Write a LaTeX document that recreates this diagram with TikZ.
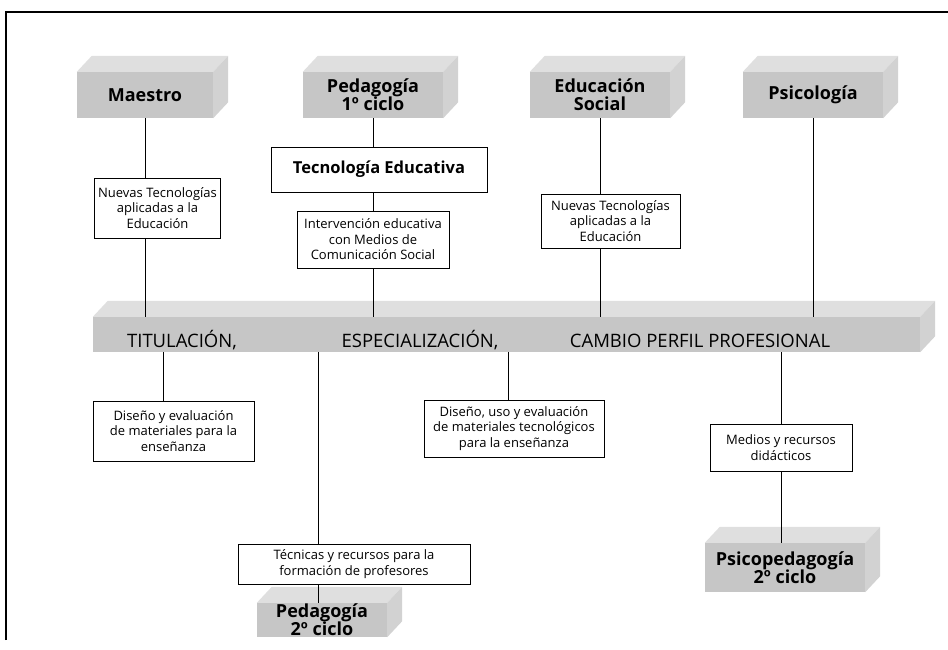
\documentclass[tikz,border=0pt]{standalone}
\usepackage{fontspec}
\setmainfont{Open Sans}
\usetikzlibrary{calc}
\begin{document}
\begin{tikzpicture}[x=1pt,y=-1pt,
    front/.style={fill=gray!45, inner sep=0pt, align=center, font=\bfseries\fontsize{18}{18}\selectfont},
    topface/.style={fill=gray!25},
    sideface/.style={fill=gray!35},
    textbox/.style={draw, line width=0.8pt, align=center, inner sep=2pt, font=\fontsize{13}{15.5}\selectfont},
    bartext/.style={anchor=base, font=\fontsize{18.5}{20}\selectfont}]
    \useasboundingbox (0,0) rectangle (948,649);
    \draw[line width=1.2pt] (6,640) -- (6,12) -- (948,12);
    % upper prisms
    \node[front, minimum width=136pt, minimum height=46pt] (maestro) at (145,95) {Maestro};
    \node[front, minimum width=140pt, minimum height=46pt] (pedA) at (373,95) {Pedagogía\\1º ciclo};
    \node[front, minimum width=140pt, minimum height=46pt] (edsoc) at (600,95) {Educación\\Social};
    \node[front, minimum width=140pt, minimum height=46pt] (psico) at (813,95) {Psicología};
    % central bar
    \node[front, minimum width=827pt, minimum height=35pt] (bar) at (506.5,334.5) {};
    % lower prisms
    \node[front, minimum width=130pt, minimum height=34pt] (pedB) at (322,620) {Pedagogía\\2º ciclo};
    \node[front, minimum width=160pt, minimum height=49pt] (psicoped) at (785,567.5) {Psicopedagogía\\2º ciclo};
    \foreach \n in {maestro,pedA,edsoc,psico,bar,pedB,psicoped}{
        \fill[topface] (\n.north west) -- ++(15,-16) -- ($(\n.north east)+(15,-16)$) -- (\n.north east) -- cycle;
        \fill[sideface] (\n.north east) -- ++(15,-16) -- ($(\n.south east)+(15,-16)$) -- (\n.south east) -- cycle;
    }
    \node[bartext] (titul) at (182,347) {TITULACIÓN,};
    \node[bartext] (espec) at (420,347) {ESPECIALIZACIÓN,};
    \node[bartext] (cambio) at (700,347) {CAMBIO PERFIL PROFESIONAL};
    % boxes above the bar
    \node[textbox, minimum width=126pt, minimum height=60pt] (ntA) at (157.5,208) {Nuevas Tecnologías\\aplicadas a la\\Educación};
    \node[textbox, minimum width=216pt, minimum height=45pt, font=\bfseries\fontsize{16.5}{18}\selectfont] (tecedu) at (379,169.5) {Tecnología Educativa};
    \node[textbox, minimum width=152pt, minimum height=57pt] (interv) at (373,239.5) {Intervención educativa\\con Medios de\\Comunicación Social};
    \node[textbox, minimum width=139pt, minimum height=54pt] (ntB) at (610.5,221) {Nuevas Tecnologías\\aplicadas a la\\Educación};
    % boxes below the bar
    \node[textbox, minimum width=161pt, minimum height=60pt] (diseA) at (173.5,431) {Diseño y evaluación\\de materiales para la\\enseñanza};
    \node[textbox, minimum width=180pt, minimum height=57pt] (diseB) at (514,428.5) {Diseño, uso y evaluación\\de materiales tecnológicos\\para la enseñanza};
    \node[textbox, minimum width=232pt, minimum height=40pt] (tecn) at (354,564) {Técnicas y recursos para la\\formación de profesores};
    \node[textbox, minimum width=142pt, minimum height=47pt] (medios) at (781,447.5) {Medios y recursos\\didácticos};
    % connectors
    \draw[line width=0.8pt] (maestro.south) -- (maestro.south |- ntA.north);
    \draw[line width=0.8pt] (maestro.south |- ntA.south) -- (maestro.south |- bar.north);
    \draw[line width=0.8pt] (pedA.south) -- (pedA.south |- tecedu.north);
    \draw[line width=0.8pt] (pedA.south |- tecedu.south) -- (pedA.south |- interv.north);
    \draw[line width=0.8pt] (interv.south) -- (interv.south |- bar.north);
    \draw[line width=0.8pt] (edsoc.south) -- (edsoc.south |- ntB.north);
    \draw[line width=0.8pt] (edsoc.south |- ntB.south) -- (edsoc.south |- bar.north);
    \draw[line width=0.8pt] (psico.south) -- (psico.south |- bar.north);
    \draw[line width=0.8pt] ([xshift=-10pt]diseA.north) -- ([xshift=-10pt]diseA.north |- bar.south);
    \draw[line width=0.8pt] ([xshift=-6pt]diseB.north) -- ([xshift=-6pt]diseB.north |- bar.south);
    \draw[line width=0.8pt] ([xshift=-36pt]tecn.north) -- ([xshift=-36pt]tecn.north |- bar.south);
    \draw[line width=0.8pt] ([xshift=-36pt]tecn.south) -- ([xshift=-36pt]tecn.south |- pedB.north);
    \draw[line width=0.8pt] (medios.north) -- (medios.north |- bar.south);
    \draw[line width=0.8pt] (medios.south) -- (medios.south |- psicoped.north);
\end{tikzpicture}
\end{document}
